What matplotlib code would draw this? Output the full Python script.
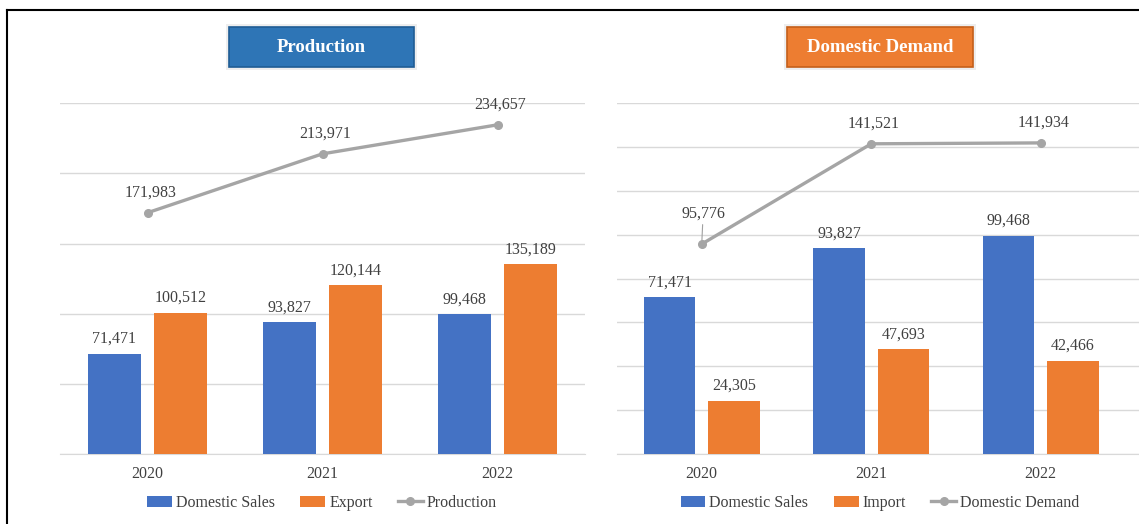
import numpy as np
import matplotlib.pyplot as plt
from matplotlib.patches import Rectangle
from matplotlib.lines import Line2D

plt.rcParams['font.family'] = ['Liberation Serif', 'DejaVu Serif']

# ---------------------------------------------------------------
# data
# ---------------------------------------------------------------
years = ['2020', '2021', '2022']

prod_sales = [71471, 93827, 99468]
prod_export = [100512, 120144, 135189]
prod_total = [171983, 213971, 234657]

dem_sales = [71471, 93827, 99468]
dem_import = [24305, 47693, 42466]
dem_total = [95776, 141521, 141934]

BLUE = '#4472C4'
ORANGE = '#ED7D31'
GRAY = '#A5A5A5'
TXT = '#404040'
GRID = '#D9D9D9'

W, H = 1139, 524


def px_rect(x0, x1, ytop, ybot):
    # pixel box -> figure fraction [l, b, w, h]
    return [x0 / W, (H - ybot) / H, (x1 - x0) / W, (ybot - ytop) / H]


def fmt(v):
    return '{:,}'.format(v)


def draw_panel(ax, bars1, bars2, line, ymax, step, xmax, leader=None):
    x = np.arange(len(years))
    bw = 0.305
    off = 0.19
    b1 = ax.bar(x - off, bars1, bw, color=BLUE, zorder=3)
    b2 = ax.bar(x + off, bars2, bw, color=ORANGE, zorder=3)
    ln, = ax.plot(x, line, color=GRAY, lw=2.4, marker='o', ms=5.5, zorder=4)

    for rect, v in zip(list(b1) + list(b2), list(bars1) + list(bars2)):
        ax.annotate(fmt(v), (rect.get_x() + rect.get_width() / 2, rect.get_height()),
                    xytext=(0, 5), textcoords='offset points', ha='center', va='bottom',
                    fontsize=11.5, color=TXT)
    for i, v in enumerate(line):
        if leader is not None and i == leader:
            ax.annotate(fmt(v), (x[i], v), xytext=(1, 16), textcoords='offset points',
                        ha='center', va='bottom', fontsize=11.5, color=TXT,
                        arrowprops=dict(arrowstyle='-', color='#A0A0A0', lw=0.8,
                                        shrinkA=0, shrinkB=3))
        else:
            ax.annotate(fmt(v), (x[i], v), xytext=(2, 9), textcoords='offset points',
                        ha='center', va='bottom', fontsize=11.5, color=TXT)

    ax.set_ylim(0, ymax)
    ax.set_xlim(-0.5, xmax)
    ax.set_yticks(np.arange(0, ymax + 1, step))
    ax.set_yticklabels([])
    ax.set_xticks(x)
    ax.set_xticklabels(years, fontsize=11.5, color=TXT)
    ax.tick_params(axis='both', length=0)
    ax.tick_params(axis='x', pad=9)
    ax.grid(axis='y', color=GRID, lw=1, zorder=0)
    for s in ['top', 'right', 'left']:
        ax.spines[s].set_visible(False)
    ax.spines['bottom'].set_color(GRID)

    return [b1, b2, ln]


fig = plt.figure(figsize=(W / 100, H / 100), dpi=100)

ax1 = fig.add_axes(px_rect(60, 585, 103.3, 454))
h1 = draw_panel(ax1, prod_sales, prod_export, prod_total, 250000, 50000, 2.5)

ax2 = fig.add_axes(px_rect(617, 1139, 103.3, 454))
h2 = draw_panel(ax2, dem_sales, dem_import, dem_total, 160000, 20000, 2.58, leader=0)

leg_kw = dict(loc='center', ncol=3, frameon=False, fontsize=11.5, handlelength=1.55,
              handleheight=0.7, columnspacing=1.6, handletextpad=0.25, labelcolor=TXT)
fig.legend(h1, ['Domestic Sales', 'Export', 'Production'],
           bbox_to_anchor=(322 / W, (H - 503) / H), **leg_kw)
fig.legend(h2, ['Domestic Sales', 'Import', 'Domestic Demand'],
           bbox_to_anchor=(880 / W, (H - 503) / H), **leg_kw)

# title boxes
for (x0, x1), title, col, edge in [((229, 414), 'Production', '#2E75B6', '#1F5C94'),
                                    ((787, 973), 'Domestic Demand', '#ED7D31', '#C55F1A')]:
    l, b, w, h = px_rect(x0, x1, 27, 67)
    sh = Rectangle((l - 3 / W, b - 3 / H), w + 6 / W, h + 6 / H, transform=fig.transFigure,
                   facecolor='#EEEEEE', edgecolor='none', zorder=1)
    fig.add_artist(sh)
    r = Rectangle((l, b), w, h, transform=fig.transFigure, facecolor=col,
                  edgecolor=edge, lw=1.2, zorder=2)
    fig.add_artist(r)
    fig.text(l + w / 2, b + h / 2, title, ha='center', va='center', color='white',
             fontsize=13.5, fontweight='bold', zorder=3)

# outer frame lines
fig.add_artist(Line2D([7 / W, 1], [1 - 9.5 / H, 1 - 9.5 / H], transform=fig.transFigure,
                      color='black', lw=1.5))
fig.add_artist(Line2D([7 / W, 7 / W], [0, 1 - 9.5 / H], transform=fig.transFigure,
                      color='black', lw=1.5))

fig.savefig('out.png', dpi=100)
